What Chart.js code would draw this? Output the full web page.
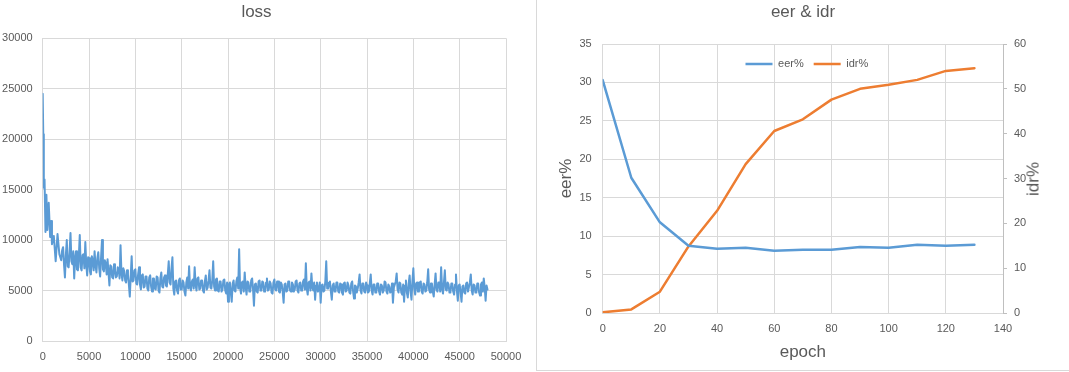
<!DOCTYPE html>
<html><head><meta charset="utf-8">
<script src="https://cdn.jsdelivr.net/npm/chart.js@4.4.1/dist/chart.umd.min.js"></script>
<style>
html,body{margin:0;padding:0;background:#fff;}
#wrap{position:relative;width:1069px;height:372px;overflow:hidden;background:#fff;}
#c1{position:absolute;left:0;top:0;}
#c2{position:absolute;left:537px;top:0;}
#sep{position:absolute;left:536px;top:0;width:1px;height:371px;background:#d9d9d9;}
#bot{position:absolute;left:536px;top:370px;width:533px;height:1px;background:#d9d9d9;}
#idr{position:absolute;left:1033px;top:178.5px;transform:translate(-50%,-50%) rotate(-90deg);font:17px "Liberation Sans",Arial,sans-serif;color:#595959;white-space:nowrap;line-height:1;}
</style></head>
<body><div id="wrap">
<canvas id="c1" width="536" height="372"></canvas>
<div id="sep"></div><div id="bot"></div>
<canvas id="c2" width="532" height="370"></canvas>
<div id="idr">idr%</div>
</div>
<script>
// ---------- data: loss chart ----------
const earlyIters = [0, 60, 120, 200, 300, 400, 500, 650, 800, 900, 1000, 1200, 1400, 1600, 1800];
const earlyLoss  = [24500, 20500, 15200, 16000, 10800, 14500, 11000, 13700, 10300, 11900, 9600, 10400, 7900, 10600, 8600];
const lossStart = 2000;
const lossStep = 100;
const lossValues = [
  8000, 9000, 9300, 7600, 6300, 8500, 10000, 7400, 7300, 8800, 10700, 7900, 7600, 8900, 6200, 8200, 8900, 7100, 7000, 8400,
  10500, 7300, 7000, 8500, 8600, 7200, 9800, 7600, 6500, 8300, 8200, 6900, 6600, 8400, 8000, 7000, 8900, 7500, 6800, 8200,
  8800, 7200, 6400, 8300, 10000, 7100, 6900, 8000, 7700, 6600, 8100, 6800, 5500, 7500, 7400, 6300, 6200, 7600, 7000, 6300,
  6400, 7300, 7100, 6200, 9500, 6700, 6000, 7200, 6900, 6000, 5800, 7000, 6600, 5600, 4400, 6400, 8400, 5900, 6000, 7000,
  7100, 5700, 5600, 6600, 7300, 5600, 5100, 6500, 6600, 5300, 5400, 6400, 6400, 5200, 5000, 6300, 6500, 5400, 4900, 6200,
  6200, 5200, 5100, 6400, 6300, 5000, 4800, 6200, 6800, 5400, 5300, 6300, 6500, 5500, 5400, 6600, 7900, 5800, 5600, 7200,
  8300, 5200, 4600, 5900, 6000, 5000, 4700, 6000, 6200, 5100, 5100, 6000, 5800, 4900, 4500, 5800, 6300, 5200, 7400, 5300,
  5000, 5900, 6100, 5200, 7300, 5600, 5000, 6200, 6300, 5100, 5200, 6000, 6000, 5000, 4800, 5900, 6500, 5100, 5300, 6000,
  7000, 5300, 5200, 6000, 7900, 5400, 5000, 6100, 6200, 5000, 4900, 5900, 5900, 4900, 5100, 6000, 6100, 5000, 4700, 5800,
  3900, 5600, 5800, 4800, 3900, 5700, 6000, 5000, 4900, 5900, 6300, 5200, 9100, 5300, 4700, 5800, 5900, 4900, 6800, 5400,
  4600, 5900, 5800, 4900, 4900, 6000, 6200, 5100, 3500, 5600, 5700, 4900, 4800, 5900, 6000, 5000, 5000, 5900, 5800, 4900,
  4900, 5800, 6200, 5000, 5100, 5900, 5700, 4800, 4700, 5800, 6100, 5100, 5000, 5900, 5900, 4900, 4800, 5800, 5600, 4900,
  3800, 5600, 5700, 4900, 5000, 5900, 5900, 5000, 4900, 5800, 5600, 4900, 5100, 5900, 6000, 5000, 4800, 5700, 5800, 5000,
  5000, 5900, 6100, 5100, 7700, 5200, 4600, 5800, 5900, 5000, 6700, 5300, 5000, 5800, 4100, 5500, 5800, 4900, 5100, 5800,
  3800, 5500, 5600, 4900, 5000, 5900, 7900, 5200, 5200, 5800, 5900, 4900, 4100, 5500, 5700, 4900, 4900, 5800, 5800, 4900,
  4800, 5700, 5600, 4800, 4600, 5700, 5800, 4900, 5000, 5800, 5500, 4800, 4700, 5700, 5900, 4900, 4200, 5500, 5400, 4800,
  5200, 5800, 6600, 5000, 4700, 5700, 5700, 4900, 4800, 5800, 5500, 4800, 4900, 5700, 6600, 5000, 4600, 5600, 5600, 4800,
  4800, 5700, 5700, 4900, 4600, 5600, 5500, 4800, 5000, 5900, 5800, 4900, 4700, 5600, 5400, 4800, 4900, 5700, 3800, 5300,
  5600, 5900, 6700, 5100, 4800, 5800, 5700, 4800, 4600, 5600, 3900, 5500, 6000, 4800, 4300, 5700, 6500, 4900, 4100, 5900,
  7200, 5200, 4600, 5700, 5800, 4900, 4900, 5800, 5900, 4900, 4700, 5700, 5600, 4900, 5000, 5800, 7100, 5100, 4800, 5700,
  5700, 4900, 4400, 5600, 6700, 5100, 4900, 5800, 5800, 4900, 7300, 5200, 4700, 5800, 7000, 5100, 5000, 5800, 5600, 4800,
  4800, 5700, 5700, 4900, 4600, 5600, 6600, 5000, 4000, 5500, 5600, 4800, 3900, 5400, 5500, 4800, 4700, 5700, 5800, 4900,
  4900, 5800, 6600, 5000, 4600, 5600, 5500, 4800, 4800, 5700, 5700, 4800, 4500, 5600, 5800, 4900, 6200, 5300, 4000, 5500,
  5100
];
const lossXTicks = [0, 5000, 10000, 15000, 20000, 25000, 30000, 35000, 40000, 45000, 50000];
const lossYTicks = [0, 5000, 10000, 15000, 20000, 25000, 30000];

// ---------- data: eer & idr chart ----------
const epochs = [0, 10, 20, 30, 40, 50, 60, 70, 80, 90, 100, 110, 120, 130];
const eer = [30.3, 17.6, 11.8, 8.75, 8.36, 8.49, 8.1, 8.23, 8.23, 8.6, 8.49, 8.88, 8.75, 8.88];
const idr = [0.15, 0.8, 4.75, 14.85, 22.8, 33.2, 40.6, 43.2, 47.6, 50.0, 50.9, 52.0, 54.0, 54.6];
const epochTicks = [0, 20, 40, 60, 80, 100, 120, 140];
const eerTicks = [0, 5, 10, 15, 20, 25, 30, 35];
const idrTicks = [0, 10, 20, 30, 40, 50, 60];

// ---------- build ----------
const FONT = '"Liberation Sans", Arial, sans-serif';
Chart.defaults.font.family = FONT;
Chart.defaults.color = '#595959';
const GRID = '#d9d9d9';
const BLUE = '#5B9BD5';
const ORANGE = '#ED7D31';

const lossPoints = earlyIters.map((x, i) => ({x: x, y: earlyLoss[i]}))
  .concat(lossValues.map((v, i) => ({x: lossStart + i * lossStep, y: v})));

function fixW(w) { return s => { s.width = w; s.paddingTop = 0; s.paddingBottom = 0; }; }
function fixH(h) { return s => { s.height = h; s.paddingLeft = 0; s.paddingRight = 0; }; }
function useTicks(arr) { return s => { s.ticks = arr.map(v => ({value: v})); }; }

new Chart(document.getElementById('c1'), {
  type: 'line',
  data: { datasets: [{
    label: 'loss', data: lossPoints, borderColor: BLUE, backgroundColor: BLUE,
    borderWidth: 2, pointRadius: 0, tension: 0, borderJoinStyle: 'round', borderCapStyle: 'round'
  }]},
  options: {
    responsive: false, animation: false, devicePixelRatio: 1,
    layout: { padding: { left: 0, right: 23, top: 0, bottom: 0 } },
    plugins: {
      legend: { display: false },
      tooltip: { enabled: false },
      title: { display: true, text: 'loss', color: '#595959',
        font: { size: 17, weight: 'normal' }, padding: { top: 1.8, bottom: 16.1 } }
    },
    scales: {
      x: { type: 'linear', min: 0, max: 50000,
        afterBuildTicks: useTicks(lossXTicks),
        ticks: { autoSkip: false, maxRotation: 0, padding: 9, font: { size: 11 }, callback: v => String(v) },
        grid: { color: GRID, drawTicks: false }, border: { color: GRID },
        afterFit: fixH(31) },
      y: { type: 'linear', min: 0, max: 30000,
        afterBuildTicks: useTicks(lossYTicks),
        ticks: { padding: 10, font: { size: 11 }, callback: v => String(v) },
        grid: { color: GRID, drawTicks: false }, border: { color: GRID },
        afterFit: fixW(42.7) },
      yR: { type: 'linear', position: 'right', min: 0, max: 1,
        ticks: { display: false },
        grid: { display: false, drawOnChartArea: false, drawTicks: false },
        border: { display: false },
        afterFit: fixW(7) }
    }
  }
});

const legendMover = {
  id: 'legendMover',
  afterLayout(chart) {
    const lg = chart.legend, ca = chart.chartArea;
    if (!lg) return;
    lg.left = ca.left; lg.right = ca.right + 8; lg.width = lg.right - lg.left;
    lg.top = 48.5; lg.height = 31; lg.bottom = lg.top + lg.height;
  }
};

new Chart(document.getElementById('c2'), {
  type: 'line',
  data: { datasets: [
    { label: 'eer%', data: epochs.map((e, i) => ({x: e, y: eer[i]})), yAxisID: 'y',
      borderColor: BLUE, backgroundColor: BLUE, borderWidth: 2.5, pointRadius: 0, tension: 0,
      borderJoinStyle: 'round', borderCapStyle: 'round' },
    { label: 'idr%', data: epochs.map((e, i) => ({x: e, y: idr[i]})), yAxisID: 'y1',
      borderColor: ORANGE, backgroundColor: ORANGE, borderWidth: 2.5, pointRadius: 0, tension: 0,
      borderJoinStyle: 'round', borderCapStyle: 'round' }
  ]},
  options: {
    responsive: false, animation: false, devicePixelRatio: 1,
    layout: { padding: 0 },
    plugins: {
      tooltip: { enabled: false },
      title: { display: true, text: 'eer & idr', color: '#595959',
        font: { size: 17, weight: 'normal' }, padding: { top: 2.3, bottom: 21.3 } },
      legend: { display: true, position: 'top', maxHeight: 0.01,
        labels: { usePointStyle: true, pointStyle: 'line', pointStyleWidth: 27, boxHeight: 11,
          padding: 10, color: '#595959', font: { size: 11 } } }
    },
    scales: {
      x: { type: 'linear', min: 0, max: 140,
        afterBuildTicks: useTicks(epochTicks),
        ticks: { autoSkip: false, maxRotation: 0, padding: 9, font: { size: 11 } },
        grid: { color: GRID, drawTicks: false }, border: { color: GRID },
        title: { display: true, text: 'epoch', color: '#595959', font: { size: 17 }, padding: { top: 0, bottom: 7.8 } },
        afterFit: fixH(57) },
      y: { type: 'linear', position: 'left', min: 0, max: 35,
        afterBuildTicks: useTicks(eerTicks),
        ticks: { padding: 11, font: { size: 11 } },
        grid: { color: GRID, drawTicks: false }, border: { color: GRID },
        title: { display: true, text: 'eer%', color: '#595959', font: { size: 17 }, padding: { top: 18.8, bottom: 0 } },
        afterFit: fixW(65.7) },
      y1: { type: 'linear', position: 'right', min: 0, max: 60,
        afterBuildTicks: useTicks(idrTicks),
        ticks: { padding: 7, font: { size: 11 } },
        grid: { drawOnChartArea: false, color: '#bfbfbf', drawTicks: true, tickLength: 4 },
        border: { color: '#bfbfbf' },
        afterFit: fixW(66) }
    }
  },
  plugins: [legendMover]
});
</script>
</body></html>
